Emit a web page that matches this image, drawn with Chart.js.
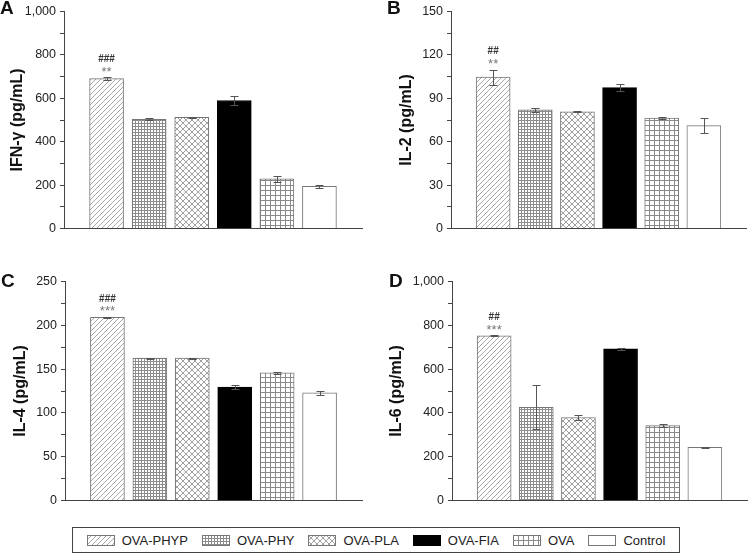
<!DOCTYPE html>
<html>
<head>
<meta charset="utf-8">
<script src="https://cdn.jsdelivr.net/npm/chart.js@4.4.0/dist/chart.umd.min.js"></script>
<style>
body{margin:0;background:#fff;width:748px;height:553px;position:relative;overflow:hidden;font-family:"Liberation Sans",Arial,sans-serif;}
canvas.panel{position:absolute;}
.tag{position:absolute;font-weight:bold;font-size:19px;line-height:19px;color:#111;}
#legend{position:absolute;left:72px;top:527px;width:606px;height:24px;border:1px solid #444;display:flex;align-items:center;justify-content:center;font-size:13px;color:#222;}
#legend .item{display:flex;align-items:center;margin:0 7px;}
#legend canvas{margin-right:7px;}
</style>
</head>
<body>
<canvas id="cA" class="panel" width="374" height="240" style="left:0;top:0"></canvas>
<canvas id="cB" class="panel" width="374" height="240" style="left:374px;top:0"></canvas>
<canvas id="cC" class="panel" width="374" height="250" style="left:0;top:262px"></canvas>
<canvas id="cD" class="panel" width="374" height="250" style="left:374px;top:262px"></canvas>
<div class="tag" style="left:0;top:-2px">A</div>
<div class="tag" style="left:387px;top:-2px">B</div>
<div class="tag" style="left:1px;top:271px">C</div>
<div class="tag" style="left:389px;top:271px">D</div>
<div id="legend"></div>
<script>
var groups = ['OVA-PHYP', 'OVA-PHY', 'OVA-PLA', 'OVA-FIA', 'OVA', 'Control'];

var ifnG = [691, 503, 512, 590, 229, 194];
var ifnGErr = [5, 5, 2, 20, 14, 6];
var il2 = [104.6, 82.0, 80.7, 97.4, 76.4, 71.1];
var il2Err = [5.3, 1.5, 0.3, 2.3, 0.8, 5.0];
var il4 = [209.2, 162.5, 162.5, 129.5, 145.6, 122.9];
var il4Err = [0.5, 0.5, 0.5, 2.5, 1.0, 2.0];
var il6 = [752, 426, 379, 692, 342, 243];
var il6Err = [3, 100, 12, 5, 7, 2];

var sigHash = ['###', '##', '###', '##'];
var sigStar = ['**', '**', '***', '***'];

var FONT = '"Liberation Sans", Arial, sans-serif';
Chart.defaults.font.family = FONT;

// hatch fills for the bars
function makeTile(kind){
    var t = document.createElement('canvas');
    var s = {diag:5, fine:3, cross:6, grid:5}[kind];
    t.width = s; t.height = s;
    var g = t.getContext('2d');
    g.fillStyle = '#fff';
    g.fillRect(0, 0, s, s);
    g.lineWidth = 1;
    if (kind == 'diag'){
        g.strokeStyle = '#a8a8a8';
        g.beginPath();
        for (var k = -1; k <= 1; k++){
            g.moveTo(k*s, s); g.lineTo(k*s + s, 0);
        }
        g.stroke();
    } else if (kind == 'cross'){
        g.strokeStyle = '#a0a0a0';
        g.beginPath();
        for (var k = -1; k <= 1; k++){
            g.moveTo(k*s, s); g.lineTo(k*s + s, 0);
            g.moveTo(k*s, 0); g.lineTo(k*s + s, s);
        }
        g.stroke();
    } else {
        g.strokeStyle = kind == 'fine' ? '#8c8c8c' : '#8a8a8a';
        g.beginPath();
        g.moveTo(0.5, 0); g.lineTo(0.5, s);
        g.moveTo(0, 0.5); g.lineTo(s, 0.5);
        g.stroke();
    }
    return t;
}

function fillsFor(ctx){
    return [
        ctx.createPattern(makeTile('diag'), 'repeat'),
        ctx.createPattern(makeTile('fine'), 'repeat'),
        ctx.createPattern(makeTile('cross'), 'repeat'),
        '#000',
        ctx.createPattern(makeTile('grid'), 'repeat'),
        '#fff'
    ];
}
var edgeColors = ['#777', '#777', '#777', '#000', '#777', '#777'];

var errorBars = {
    id: 'errorBars',
    afterDatasetsDraw: function(chart, args, opts){
        var meta = chart.getDatasetMeta(0);
        var y = chart.scales.y;
        var c = chart.ctx;
        var vals = chart.data.datasets[0].data;
        c.save();
        c.strokeStyle = '#555';
        c.lineWidth = 1;
        for (var i = 0; i < vals.length; i++){
            if (vals[i] === null) continue;
            var e = opts.errs[i-1];
            var x = Math.round(meta.data[i].x) + 0.5;
            var yt = Math.round(y.getPixelForValue(vals[i] + e)) + 0.5;
            var yb = Math.round(y.getPixelForValue(vals[i] - e)) + 0.5;
            c.beginPath();
            c.moveTo(x, yt); c.lineTo(x, yb);
            c.moveTo(x-4, yt); c.lineTo(x+4, yt);
            c.moveTo(x-4, yb); c.lineTo(x+4, yb);
            c.stroke();
        }
        // significance marks over the first bar
        var x0 = meta.data[1].x;
        var top0 = y.getPixelForValue(vals[1] + opts.errs[0]);
        c.textAlign = 'center';
        c.textBaseline = 'middle';
        c.fillStyle = '#777';
        c.font = '13px ' + FONT;
        c.fillText(opts.star, x0, top0 - 5);
        c.fillStyle = '#333';
        c.font = 'bold 10px ' + FONT;
        c.fillText(opts.hash, x0, top0 - 18);
        c.restore();
    }
};
Chart.register(errorBars);

function makePanel(id, vals, errs, p){
    var ctx = document.getElementById(id).getContext('2d');
    var fills = fillsFor(ctx);
    return new Chart(ctx, {
        type: 'bar',
        data: {
            labels: [''].concat(groups, ['']),
            datasets: [{
                data: [null].concat(vals, [null]),
                backgroundColor: ['rgba(0,0,0,0)'].concat(fills, ['rgba(0,0,0,0)']),
                borderColor: ['rgba(0,0,0,0)'].concat(edgeColors, ['rgba(0,0,0,0)']),
                borderWidth: 1,
                barThickness: 34
            }]
        },
        options: {
            responsive: false,
            animation: false,
            devicePixelRatio: 1,
            layout: {padding: p.pad},
            plugins: {
                legend: {display: false},
                tooltip: {enabled: false},
                errorBars: {errs: errs, star: p.star, hash: p.hash}
            },
            scales: {
                x: {
                    type: 'category',
                    offset: false,
                    grid: {display: false, drawTicks: false},
                    ticks: {display: false},
                    border: {display: true, color: '#444', width: 1},
                    afterFit: function(s){ s.height = 0; }
                },
                y: {
                    min: 0,
                    max: p.max,
                    ticks: {
                        stepSize: p.step,
                        autoSkip: false,
                        padding: 4,
                        color: '#222',
                        font: {size: 12.5},
                        callback: function(v){ return v % p.major === 0 ? v.toLocaleString('en-US') : ''; }
                    },
                    grid: {drawOnChartArea: false, drawTicks: true, tickLength: 4, color: '#444'},
                    border: {display: true, color: '#444', width: 1},
                    title: {
                        display: true,
                        text: p.title,
                        color: '#111',
                        font: {size: 16, weight: 'bold'},
                        padding: {top: p.tpad, bottom: 0}
                    },
                    afterFit: function(s){ s.width = p.axisW; }
                }
            }
        }
    });
}

makePanel('cA', ifnG, ifnGErr, {title: 'IFN-γ (pg/mL)', max: 1000, step: 100, major: 200, axisW: 64, tpad: 8,
    pad: {left: 0, right: 12, top: 9, bottom: 11}, star: sigStar[0], hash: sigHash[0]});
makePanel('cB', il2, il2Err, {title: 'IL-2 (pg/mL)', max: 150, step: 15, major: 30, axisW: 77, tpad: 23,
    pad: {left: 0, right: 2, top: 9, bottom: 11}, star: sigStar[1], hash: sigHash[1]});
makePanel('cC', il4, il4Err, {title: 'IL-4 (pg/mL)', max: 250, step: 25, major: 50, axisW: 65, tpad: 11,
    pad: {left: 0, right: 12, top: 19.5, bottom: 11.5}, star: sigStar[2], hash: sigHash[2]});
makePanel('cD', il6, il6Err, {title: 'IL-6 (pg/mL)', max: 1000, step: 100, major: 200, axisW: 78, tpad: 13,
    pad: {left: 0, right: 1, top: 19.5, bottom: 11.5}, star: sigStar[3], hash: sigHash[3]});

// shared legend
var legend = document.getElementById('legend');
groups.forEach(function(name, i){
    var item = document.createElement('span');
    item.className = 'item';
    var sw = document.createElement('canvas');
    sw.width = 28; sw.height = 11;
    var g = sw.getContext('2d');
    g.fillStyle = fillsFor(g)[i];
    g.fillRect(0, 0, 28, 11);
    g.strokeStyle = edgeColors[i];
    g.strokeRect(0.5, 0.5, 27, 10);
    item.appendChild(sw);
    var txt = document.createElement('span');
    txt.textContent = name;
    item.appendChild(txt);
    legend.appendChild(item);
});
</script>
</body>
</html>
